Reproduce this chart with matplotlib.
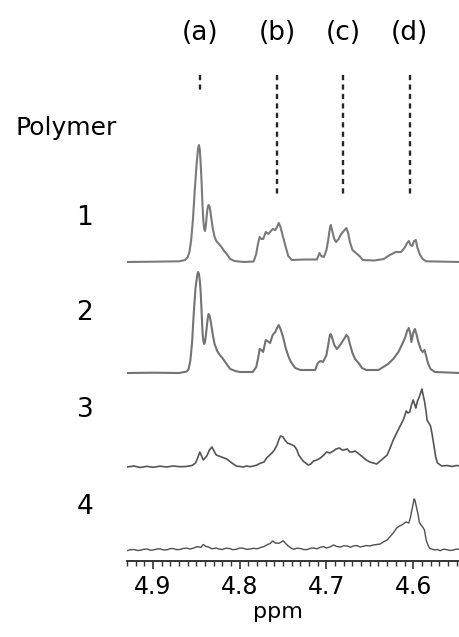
"""Stacked 1H NMR spectra (4.55-4.93 ppm) for polymers 1-4 with peak markers (a)-(d)."""
import matplotlib

matplotlib.use("Agg")
import matplotlib.pyplot as plt

# ---- data (ppm, intensity above each baseline) ----
PPM_1 = [4.930, 4.900, 4.870, 4.863, 4.860, 4.858, 4.856, 4.854, 4.852, 4.850,
         4.848, 4.847, 4.846, 4.845, 4.844, 4.843, 4.842, 4.841, 4.840, 4.839,
         4.838, 4.837, 4.836, 4.835, 4.834, 4.833, 4.831, 4.829, 4.827, 4.824,
         4.821, 4.818, 4.815, 4.811, 4.806, 4.795, 4.784, 4.781, 4.779, 4.777,
         4.775, 4.773, 4.770, 4.767, 4.765, 4.762, 4.759, 4.757, 4.755, 4.753,
         4.750, 4.747, 4.744, 4.740, 4.725, 4.711, 4.708, 4.706, 4.703, 4.700,
         4.698, 4.696, 4.695, 4.693, 4.691, 4.689, 4.686, 4.683, 4.680, 4.678,
         4.677, 4.675, 4.673, 4.670, 4.666, 4.662, 4.658, 4.645, 4.634, 4.627,
         4.620, 4.614, 4.610, 4.607, 4.605, 4.603, 4.601, 4.599, 4.597, 4.595,
         4.592, 4.589, 4.585, 4.546]
INT_1 = [0, 0.3, 0.7, 2, 5, 10, 22, 42, 70, 95,
         114, 117, 112, 98, 80, 58, 42, 33, 31, 37,
         47, 54, 57, 56, 52, 45, 33, 25, 21, 18,
         15, 11, 8, 3, 1, 0, 0.5, 8, 18, 25,
         23, 23, 30, 28, 30, 33, 32, 35, 39, 35,
         25, 15, 6, 2, 2.5, 2.5, 9, 6, 5, 12,
         22, 34, 37, 30, 23, 20, 23, 28, 31, 33,
         34, 29, 20, 12, 9, 6, 2, 1.5, 3, 7,
         10, 10, 14, 19, 21, 17, 16, 21, 22, 14,
         7, 3, 0.7, 0]

PPM_2 = [4.930, 4.900, 4.870, 4.861, 4.859, 4.857, 4.855, 4.853, 4.851, 4.849,
         4.848, 4.847, 4.846, 4.845, 4.844, 4.843, 4.842, 4.841, 4.840, 4.839,
         4.838, 4.837, 4.836, 4.835, 4.834, 4.833, 4.831, 4.829, 4.826, 4.823,
         4.820, 4.816, 4.811, 4.805, 4.800, 4.785, 4.781, 4.779, 4.777, 4.775,
         4.773, 4.770, 4.768, 4.765, 4.762, 4.759, 4.757, 4.755, 4.753, 4.750,
         4.747, 4.744, 4.741, 4.736, 4.730, 4.713, 4.710, 4.707, 4.704, 4.700,
         4.698, 4.696, 4.695, 4.693, 4.691, 4.688, 4.685, 4.682, 4.679, 4.677,
         4.675, 4.673, 4.670, 4.667, 4.663, 4.659, 4.654, 4.640, 4.629, 4.623,
         4.617, 4.612, 4.609, 4.607, 4.605, 4.603, 4.602, 4.600, 4.598, 4.596,
         4.594, 4.591, 4.589, 4.587, 4.585, 4.583, 4.580, 4.575, 4.546]
INT_2 = [0, 0.3, 0, 1.5, 4, 12, 30, 60, 85, 98,
         101, 99, 92, 80, 62, 42, 32, 29, 31, 38,
         46, 54, 59, 58, 54, 49, 38, 29, 22, 18,
         15, 10, 4, 2, 1, 1, 6, 14, 24, 23,
         21, 33, 32, 30, 38, 41, 45, 48, 44, 36,
         25, 17, 11, 5, 3, 3, 10, 12, 11, 18,
         28, 38, 39, 34, 28, 24, 27, 31, 35, 38,
         36, 29, 20, 14, 10, 5, 3, 3, 9, 14,
         21, 30, 36, 42, 45, 38, 31, 40, 44, 38,
         31, 23, 21, 23, 17, 10, 4, 1, 0]

PPM_3 = [4.930, 4.922, 4.915, 4.907, 4.900, 4.892, 4.884, 4.877, 4.869, 4.862,
         4.855, 4.851, 4.849, 4.846, 4.844, 4.842, 4.838, 4.835, 4.832, 4.829,
         4.827, 4.821, 4.815, 4.809, 4.804, 4.800, 4.796, 4.792, 4.788, 4.784,
         4.780, 4.777, 4.772, 4.769, 4.763, 4.760, 4.757, 4.755, 4.753, 4.750,
         4.748, 4.745, 4.742, 4.737, 4.734, 4.732, 4.727, 4.721, 4.718, 4.715,
         4.711, 4.707, 4.703, 4.700, 4.696, 4.692, 4.689, 4.685, 4.682, 4.680,
         4.676, 4.673, 4.670, 4.667, 4.664, 4.661, 4.654, 4.650, 4.646, 4.642,
         4.638, 4.634, 4.630, 4.627, 4.623, 4.619, 4.615, 4.611, 4.608, 4.606,
         4.604, 4.602, 4.600, 4.598, 4.597, 4.595, 4.593, 4.591, 4.590, 4.589,
         4.587, 4.585, 4.584, 4.582, 4.580, 4.578, 4.576, 4.574, 4.572, 4.567,
         4.561, 4.555, 4.550, 4.546]
INT_3 = [0, 1, -0.5, 0.7, -0.3, 0.8, 0, 1, 0.3, 0.5,
         1.5, 4, 8, 15, 11, 7, 11, 17, 20, 15,
         12, 10, 8, 4, 1, 0.5, 0, 1, 0.3, 1,
         2, 3.5, 5, 9, 14, 17, 22, 27, 31, 30,
         27, 24, 23, 21, 17, 12, 6, 2, 3, 6,
         7, 9, 12, 15, 14, 16, 18, 19, 17, 17,
         18, 15, 15, 16, 14, 12, 7, 5, 4, 3,
         6, 9, 12, 18, 27, 34, 41, 48, 56, 54,
         55, 62, 67, 62, 59, 66, 70, 75, 78, 74,
         66, 55, 47, 44, 41, 32, 21, 10, 4, 1,
         1.5, 0.5, 1.5, 1]

PPM_4 = [4.930, 4.926, 4.922, 4.918, 4.915, 4.911, 4.907, 4.903, 4.900, 4.896,
         4.892, 4.888, 4.884, 4.880, 4.877, 4.873, 4.869, 4.865, 4.861, 4.857,
         4.853, 4.849, 4.845, 4.842, 4.839, 4.836, 4.832, 4.827, 4.824, 4.820,
         4.816, 4.812, 4.808, 4.804, 4.800, 4.796, 4.792, 4.788, 4.784, 4.780,
         4.776, 4.772, 4.769, 4.765, 4.762, 4.759, 4.755, 4.752, 4.750, 4.747,
         4.744, 4.741, 4.738, 4.734, 4.730, 4.726, 4.722, 4.718, 4.715, 4.711,
         4.707, 4.703, 4.700, 4.696, 4.692, 4.688, 4.684, 4.680, 4.676, 4.672,
         4.669, 4.665, 4.661, 4.657, 4.654, 4.650, 4.646, 4.642, 4.638, 4.634,
         4.630, 4.627, 4.623, 4.619, 4.616, 4.613, 4.610, 4.608, 4.605, 4.603,
         4.602, 4.600, 4.599, 4.598, 4.596, 4.594, 4.593, 4.591, 4.589, 4.587,
         4.585, 4.583, 4.581, 4.578, 4.575, 4.572, 4.569, 4.565, 4.562, 4.558,
         4.555, 4.550, 4.546]
INT_4 = [-0.7, 0.3, 0.5, -0.5, -0.3, 0.6, 1, -0.2, 0, 0.9,
         1.2, 0.1, 0.2, 1.4, 1.5, 0.4, 0.5, 1.6, 1.8, 1.0,
         2, 3.5, 2.5, 5.5, 3.5, 3, 1.2, 2, 1.0, 0.5,
         1.8, 1.5, 0.3, 0.7, 2.0, 1.8, 0.6, 1, 1.7, 1.2,
         2.5, 3.5, 5, 6.5, 9, 7, 6.7, 8, 9.3, 6.5,
         4, 2.0, 0.7, 1.8, 1.5, 0.4, 0.5, 1.8, 2, 1.2,
         2.7, 3.4, 2, 3.0, 5, 3.5, 3, 4.2, 4, 2.8,
         4, 4.5, 3, 3.8, 4.5, 4.0, 5, 5.5, 6, 8.3,
         10, 13, 17, 22, 24, 25, 27, 28, 27, 33,
         38, 46, 51, 50, 42, 34, 28, 25, 23, 20,
         10, 5, 1.7, 0.8, 0, 0.6, -0.7, 0.8, 0.5, -0.4,
         -0.3, 0.9, 0.7]

SPECTRA = [(PPM_1, INT_1), (PPM_2, INT_2), (PPM_3, INT_3), (PPM_4, INT_4)]
POLYMER_LABELS = ["1", "2", "3", "4"]
PEAK_LABELS = ["(a)", "(b)", "(c)", "(d)"]
PEAK_PPM = [4.846, 4.757, 4.681, 4.604]
MAJOR_TICKS = [4.9, 4.8, 4.7, 4.6]
MINOR_TICKS = [round(4.93 - 0.01 * i, 2) for i in range(39)]

# ---- layout (pixel units of the 460x637 canvas) ----
W, H = 460, 637
AX_LEFT, AX_BASE = 127, 561
OFFSETS = [299, 188, 94, 11]          # baseline height of each trace above the axis
LABEL_Y = [218, 313, 410, 507]        # pixel centre of the polymer numbers
TRACE_COLORS = ["#7a7a7a", "#737373", "#555555", "#505050"]
TRACE_LW = [1.5, 1.5, 1.2, 1.0]

plt.rcParams["font.family"] = ["DejaVu Sans"]

fig = plt.figure(figsize=(W / 100, H / 100), dpi=100)
ax = fig.add_axes([AX_LEFT / W, (H - AX_BASE) / H, 1 - AX_LEFT / W, AX_BASE / H])

for (ppm, inten), off, col, lw in zip(SPECTRA, OFFSETS, TRACE_COLORS, TRACE_LW):
    ax.plot(ppm, [off + v for v in inten], color=col, lw=lw,
            solid_joinstyle="round")

# dashed peak markers, (a) is short
for i, x in enumerate(PEAK_PPM):
    bottom = AX_BASE - 94 if i == 0 else AX_BASE - 194
    ax.plot([x, x], [AX_BASE - 75, bottom], color="#262626", lw=1.7,
            ls=(0, (2.2, 1.8)))

ax.set_xlim(4.930, 4.546)
ax.set_ylim(0, AX_BASE)
for side in ("left", "right", "top"):
    ax.spines[side].set_visible(False)
ax.spines["bottom"].set_linewidth(1.4)
ax.spines["bottom"].set_color("#333333")
ax.set_yticks([])
ax.set_xticks(MAJOR_TICKS)
ax.set_xticklabels([f"{t:.1f}" for t in MAJOR_TICKS], fontsize=17)
ax.set_xticks(MINOR_TICKS, minor=True)
ax.tick_params(axis="x", which="major", direction="out", length=6, width=1.2,
               pad=4, color="#333333")
ax.tick_params(axis="x", which="minor", direction="out", length=3.5, width=1.0,
               color="#333333")
ax.set_xlabel("ppm", fontsize=16)
ax.xaxis.set_label_coords((278 - AX_LEFT) / (W - AX_LEFT), -(612 - AX_BASE) / AX_BASE)
ax.xaxis.label.set_va("center")

# peak labels above the dashed lines
for lab, x in zip(PEAK_LABELS, PEAK_PPM):
    px = AX_LEFT + (4.930 - x) / (4.930 - 4.546) * (W - AX_LEFT)
    fig.text(px / W, 1 - 33 / H, lab, fontsize=19, ha="center", va="center")

fig.text(66 / W, 1 - 128 / H, "Polymer", fontsize=18, ha="center", va="center")
for lab, y in zip(POLYMER_LABELS, LABEL_Y):
    fig.text(85 / W, 1 - y / H, lab, fontsize=19, ha="center", va="center")

fig.savefig("out.png", dpi=100)
